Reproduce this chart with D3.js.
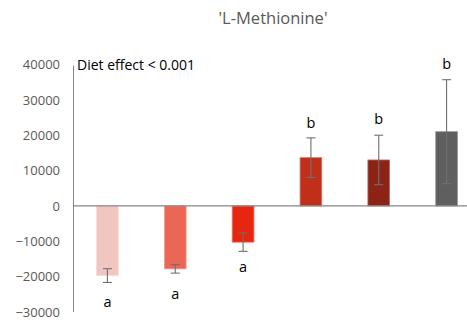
<!DOCTYPE html>
<html>
<head>
<meta charset="utf-8">
<script src="https://cdn.jsdelivr.net/npm/d3@7"></script>
<style>
  html, body { margin: 0; padding: 0; background: #fff; }
  svg { display: block; }
</style>
</head>
<body>
<svg id="chart" width="467" height="322"></svg>
<script>
// Diet groups and their mean change, standard error and significance letters
const groups = ["D1", "D2", "D3", "D4", "D5", "D6"];
const means = [-19700, -17800, -10250, 13650, 13000, 21000];
const errors = [1950, 1200, 2600, 5600, 7000, 14700];
const letters = ["a", "a", "a", "b", "b", "b"];
const letterValues = [-27200, -24900, -17150, 23450, 24600, 40100];
const colors = ["#F2C6C0", "#EC6655", "#E8250F", "#BF2F1A", "#8D2317", "#5F5F5F"];
const yTicks = [40000, 30000, 20000, 10000, 0, -10000, -20000, -30000];

const svg = d3.select("#chart");

const x = d3.scaleBand().domain(groups).range([73.5, 480.5]).paddingInner(0.68).paddingOuter(0.34);
const y = d3.scaleLinear().domain([-30000, 40000]).range([312, 64.5]);

// Title
svg.append("text")
  .attr("x", 273).attr("y", 24)
  .attr("text-anchor", "middle")
  .attr("font-family", "'Open Sans', 'Liberation Sans', sans-serif")
  .attr("font-size", 16.5)
  .attr("fill", "#595959")
  .text("'L-Methionine'");

// Y axis (labels only, with the vertical line drawn separately)
const yAxis = d3.axisLeft(y).tickValues(yTicks).tickSize(0).tickPadding(13).tickFormat(d3.format("d"));
const gy = svg.append("g").attr("transform", "translate(73,0)").call(yAxis);
gy.select(".domain").remove();
gy.selectAll("text")
  .attr("font-family", "'Open Sans', 'Liberation Sans', sans-serif")
  .attr("font-size", 13)
  .attr("fill", "#595959");

svg.append("line")
  .attr("x1", 73.5).attr("x2", 73.5)
  .attr("y1", y(40000) + 1).attr("y2", y(-30000))
  .attr("stroke", "#868686").attr("stroke-width", 1);

// Bars
svg.append("g").selectAll("rect")
  .data(groups)
  .join("rect")
  .attr("x", d => x(d))
  .attr("width", x.bandwidth())
  .attr("y", (d, i) => y(Math.max(0, means[i])))
  .attr("height", (d, i) => Math.abs(y(means[i]) - y(0)))
  .attr("fill", (d, i) => colors[i])
  .attr("stroke", (d, i) => d3.interpolateRgb(colors[i], "#ffffff")(0.35))
  .attr("stroke-width", 0.8);

// Zero line
svg.append("line")
  .attr("x1", 73.5).attr("x2", 467)
  .attr("y1", y(0)).attr("y2", y(0))
  .attr("stroke", "#868686").attr("stroke-width", 1.2);

// Error bars
const eb = svg.append("g").attr("stroke", "#707070").attr("stroke-width", 1.1);
groups.forEach((g, i) => {
  const cx = x(g) + x.bandwidth() / 2;
  const lo = y(means[i] - errors[i]);
  const hi = y(means[i] + errors[i]);
  eb.append("line").attr("x1", cx).attr("x2", cx).attr("y1", hi).attr("y2", lo);
  eb.append("line").attr("x1", cx - 4.5).attr("x2", cx + 4.5).attr("y1", hi).attr("y2", hi);
  eb.append("line").attr("x1", cx - 4.5).attr("x2", cx + 4.5).attr("y1", lo).attr("y2", lo);
});

// Significance letters
svg.append("g").selectAll("text")
  .data(groups)
  .join("text")
  .attr("x", d => x(d) + x.bandwidth() / 2)
  .attr("y", (d, i) => y(letterValues[i]))
  .attr("dy", "0.35em")
  .attr("text-anchor", "middle")
  .attr("font-family", "'Open Sans', 'Liberation Sans', sans-serif")
  .attr("font-size", 14.5)
  .attr("fill", "#000")
  .text((d, i) => letters[i]);

// Annotation
svg.append("text")
  .attr("x", 77).attr("y", 65)
  .attr("dy", "0.35em")
  .attr("font-family", "'Open Sans', 'Liberation Sans', sans-serif")
  .attr("font-size", 14)
  .attr("fill", "#000")
  .text("Diet effect < 0.001");
</script>
</body>
</html>
